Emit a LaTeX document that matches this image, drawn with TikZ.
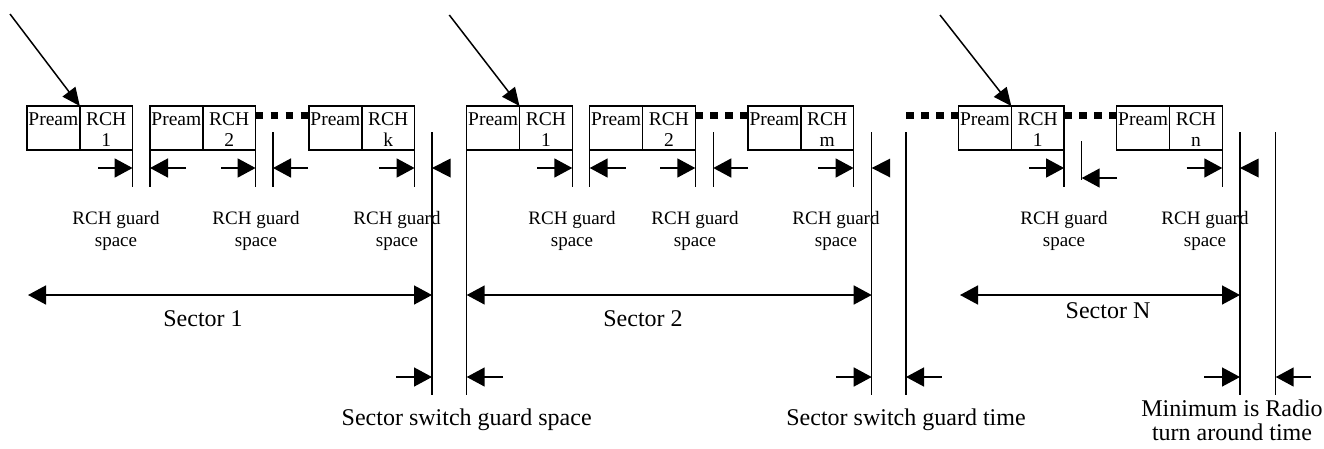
\documentclass[tikz,border=0pt]{standalone}
\usepackage{fontspec}
\setmainfont{Liberation Serif}
\usetikzlibrary{arrows.meta}
\tikzset{
  half/.style={draw, line width=1.5pt, minimum width=52.8pt, minimum height=44pt,
    inner sep=0pt, outer sep=0pt, anchor=north west},
  btxt/.style={anchor=base, inner sep=0pt, font=\fontsize{19.5}{21}\selectfont},
  gtxt/.style={anchor=base, inner sep=0pt, align=center, font=\fontsize{19}{22.7}\selectfont},
  big/.style={anchor=base, inner sep=0pt, align=center, font=\fontsize{24}{23.3}\selectfont},
  tick/.style={line width=1.5pt},
  dim/.style={line width=1.5pt, -{Triangle[length=18pt,width=19pt]}},
  dimboth/.style={line width=1.5pt, {Triangle[length=18pt,width=19pt]}-{Triangle[length=18pt,width=19pt]}},
  headonly/.style={fill=black},
  dots/.style={line width=7pt, dash pattern=on 7.5pt off 7.5pt},
  ptr/.style={line width=1.5pt, -{Triangle[length=18pt,width=16pt]}}
}
\newcommand\rchbox[3]{%
  \node[half] (#1p) at (#2,106) {};
  \node[half] (#1r) at (#1p.north east) {};
  \node[btxt] (#1pt) at ([yshift=-19pt]#1p.north) {Pream};
  \node[btxt] (#1rt) at ([yshift=-19pt]#1r.north) {RCH};
  \node[btxt] (#1rn) at ([yshift=-40.7pt]#1r.north) {#3};
}
\begin{document}
\begin{tikzpicture}[x=1pt,y=-1pt]
\useasboundingbox (0,0) rectangle (1324,448);
% boxes
\rchbox{a}{27}{1}
\rchbox{b}{150}{2}
\rchbox{c}{309}{k}
\rchbox{d}{466.7}{1}
\rchbox{e}{589.7}{2}
\rchbox{f}{748}{m}
\rchbox{g}{958.5}{1}
\rchbox{h}{1116.7}{n}
% guard-line coordinates
\coordinate (s1t) at (432,132);   \coordinate (s1b) at (432,395);
\coordinate (s2t) at (871.7,132); \coordinate (s2b) at (871.7,395);
\coordinate (s3t) at (906,132);   \coordinate (s3b) at (906,395);
\coordinate (s4t) at (1240,132);  \coordinate (s4b) at (1240,395);
\coordinate (s5t) at (1275.7,132);\coordinate (s5b) at (1275.7,395);
\coordinate (g1t) at (273,132);   \coordinate (g1b) at (273,187);
\coordinate (g2t) at (713.3,132); \coordinate (g2b) at (713.3,187);
\coordinate (g3t) at (1081.7,141);\coordinate (g3b) at (1081.7,180);
% dots
\draw[dots] ([yshift=-9pt]br.north east) -- ([yshift=-9pt]cp.north west);
\draw[dots] ([yshift=-9pt]er.north east) -- ([yshift=-9pt]fp.north west);
\draw[dots] (906,115) -- ([yshift=-9pt]gp.north west);
\draw[dots] ([yshift=-9pt]gr.north east) -- ([yshift=-9pt]hp.north west);
% vertical lines
\draw[tick] (ar.north east) -- ++(0,81);
\draw[tick] (bp.south west) -- ++(0,37);
\draw[tick] (br.south east) -- ++(0,37);
\draw[tick] (g1t) -- (g1b);
\draw[tick] (cr.north east) -- ++(0,81);
\draw[tick] (s1t) -- (s1b);
\draw[tick] (dp.south west) -- ++(0,245);
\draw[tick] (dr.north east) -- ++(0,81);
\draw[tick] (ep.south west) -- ++(0,37);
\draw[tick] (er.south east) -- ++(0,37);
\draw[tick] (g2t) -- (g2b);
\draw[tick] (fr.north east) -- ++(0,81);
\draw[tick] (s2t) -- (s2b);
\draw[tick] (s3t) -- (s3b);
\draw[tick] (gr.north east) -- ++(0,81);
\draw[tick] (g3t) -- (g3b);
\draw[tick] (hr.north east) -- ++(0,81);
\draw[tick] (s4t) -- (s4b);
\draw[tick] (s5t) -- (s5b);
% guard arrows y=168
\draw[dim] (98,168) -- (ar.east |- 0,168);
\draw[dim] (186,168) -- (bp.west |- 0,168);
\draw[dim] (221,168) -- (br.east |- 0,168);
\draw[dim] (308,168) -- (g1t |- 0,168);
\draw[dim] (379,168) -- (cr.east |- 0,168);
\path[headonly] (s1t |- 0,168) -- ++(18.5,-9.5) -- ++(0,19) -- cycle;
\draw[dim] (537,168) -- (dr.east |- 0,168);
\draw[dim] (625.7,168) -- (ep.west |- 0,168);
\draw[dim] (660,168) -- (er.east |- 0,168);
\draw[dim] (748,168) -- (g2t |- 0,168);
\draw[dim] (818.3,168) -- (fr.east |- 0,168);
\path[headonly] (s2t |- 0,168) -- ++(18.5,-9.5) -- ++(0,19) -- cycle;
\draw[dim] (1029,168) -- (gr.east |- 0,168);
\draw[dim] (1117,178) -- (g3t |- 0,178);
\draw[dim] (1186.7,168) -- (hr.east |- 0,168);
\path[headonly] (s4t |- 0,168) -- ++(18.5,-9.5) -- ++(0,19) -- cycle;
% guard labels (base = last line)
\node[gtxt] at (116,246.7) {RCH guard\\space};
\node[gtxt] at (256,246.7) {RCH guard\\space};
\node[gtxt] at (397,246.7) {RCH guard\\space};
\node[gtxt] at (572,246.7) {RCH guard\\space};
\node[gtxt] at (695,246.7) {RCH guard\\space};
\node[gtxt] at (836,246.7) {RCH guard\\space};
\node[gtxt] at (1064,246.7) {RCH guard\\space};
\node[gtxt] at (1205,246.7) {RCH guard\\space};
% sector arrows
\draw[dimboth] (28,295) -- (s1t |- 0,295);
\draw[dimboth] (dp.west |- 0,295) -- (s2t |- 0,295);
\draw[dimboth] (960,295) -- (s4t |- 0,295);
\node[big] at (203,326.7) {Sector 1};
\node[big] at (643,326.7) {Sector 2};
\node[big] at (1108,318.3) {Sector N};
% bottom arrows
\draw[dim] (396,377) -- (s1t |- 0,377);
\draw[dim] (503,377) -- (dp.west |- 0,377);
\draw[dim] (836,377) -- (s2t |- 0,377);
\draw[dim] (941.7,377) -- (s3t |- 0,377);
\draw[dim] (1204,377) -- (s4t |- 0,377);
\draw[dim] (1310.7,377) -- (s5t |- 0,377);
\node[big] at (466.7,425) {Sector switch guard space};
\node[big] at (906,425) {Sector switch guard time};
\node[big] at (1232,440) {Minimum is Radio\\turn around time};
% pointer arrows
\draw[ptr] (10,14) -- (ap.north east);
\draw[ptr] (449.3,15) -- (dp.north east);
\draw[ptr] (940,15) -- (gp.north east);
\end{tikzpicture}
\end{document}
